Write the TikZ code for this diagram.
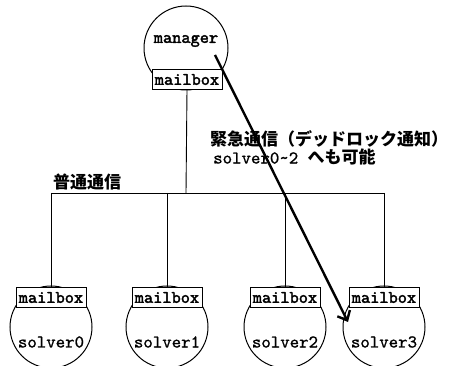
\documentclass[tikz,border=0pt]{standalone}
\usepackage{fontspec}
\newfontfamily\jp{Noto Sans CJK JP}
\newfontfamily\monoB{lmmono10-regular}[Extension=.otf,FakeBold=2.2]
\newfontfamily\monoR{lmmono10-regular}[Extension=.otf,FakeBold=1.0]
\usetikzlibrary{arrows.meta}
\begin{document}
\begin{tikzpicture}[x=1pt,y=-1pt,
  ball/.style={circle,draw,fill=white,line width=1pt,inner sep=0pt},
  mbox/.style={rectangle,draw,fill=white,line width=1pt,minimum width=70pt,minimum height=20pt,inner sep=0pt,font=\fontsize{17.5}{17.5}\selectfont\monoB},
  lbl/.style={inner sep=0pt,font=\fontsize{18}{18}\selectfont\monoR},
  jtext/.style={inner sep=0pt,anchor=west,font=\fontsize{17}{17}\selectfont\jp\bfseries},
  wire/.style={line width=0.9pt},
  urgent/.style={line width=2.4pt,-{Straight Barb[length=8pt,width=14pt]}}]
\useasboundingbox (0,0) rectangle (456,366);
% manager
\node[ball,minimum size=84pt] (mgr) at (186,48) {};
\node[lbl,font=\fontsize{17.5}{17.5}\selectfont\monoB] (mgrt) at (186,41) {manager};
\node[mbox] (mgrbox) at (187,79.5) {mailbox};
\coordinate (jc) at (186,193);
\draw[wire] (mgrbox.south) -- (jc);
% solvers
\foreach \i/\x in {0/51,1/167,2/285,3/384}{
  \node[ball,minimum size=82pt] (s\i) at (\x,327) {};
  \node[mbox] (b\i) at (\x,297.5) {mailbox};
  \node[lbl] (t\i) at (\x,342) {solver\i};
  \coordinate (j\i) at (\x,193);
  \draw[wire] (j\i) -- (b\i.north);
}
\draw[wire] (j0) -- (j3);
% labels
\node[jtext] (urg) at (210,139) {緊急通信（デッドロック通知）};
\node[jtext] (urg2) at (213,157) {{\fontsize{18}{18}\selectfont\monoR solver0\textasciitilde 2\ }へも可能};
\node[jtext] (norm) at (53,182) {普通通信};
% urgent arrow
\coordinate (as) at (215,55);
\coordinate (ae) at (348,322);
\draw[urgent] (as) -- (ae);
\end{tikzpicture}
\end{document}
